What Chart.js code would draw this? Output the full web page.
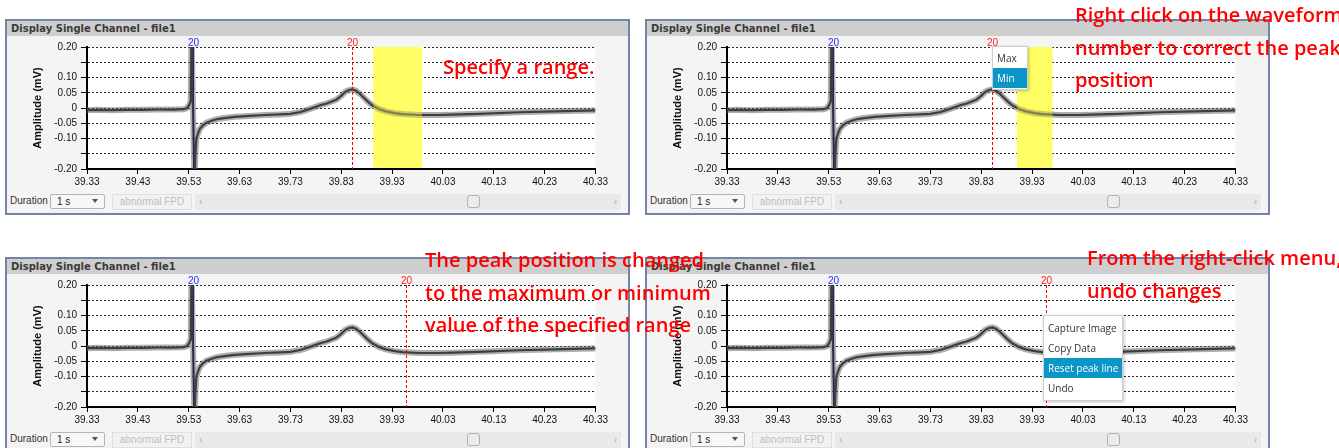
<!DOCTYPE html>
<html>
<head>
<meta charset="utf-8">
<title>Display Single Channel - file1</title>
<script src="https://cdn.jsdelivr.net/npm/chart.js@4.4.1/dist/chart.umd.min.js"></script>
<style>
    html, body { margin: 0; padding: 0; }
    body {
        width: 1339px; height: 448px; overflow: hidden; position: relative;
        background: #ffffff; font-family: "Liberation Sans", Arial, sans-serif;
    }
    .panel {
        position: absolute; width: 625px; height: 196px; box-sizing: border-box;
        border: 2px solid #7483a9; background: #f4f4f4;
    }
    .panel .title {
        position: absolute; left: 0; top: 0; right: 0; height: 15px;
        background: #cecece; color: #3a3a3a; font-family: "DejaVu Sans", sans-serif;
        font-weight: bold; font-size: 10px; line-height: 15px; padding-left: 4px;
    }
    .panel canvas { position: absolute; left: 3px; top: 15px; }
    .panel .lbl { position: absolute; left: 3px; top: 174px; font-size: 10px; color: #333; }
    .panel .combo {
        position: absolute; left: 43px; top: 173px; width: 55px; height: 15px; box-sizing: border-box;
        border: 1px solid #b4b4b4; border-radius: 2px; background: #f7f7f7; font-size: 10px; color: #222;
    }
    .panel .combo span { position: absolute; left: 6px; top: 1px; }
    .panel .combo i { position: absolute; right: 6px; top: 4px; border: 3px solid transparent; border-top: 4px solid #555; }
    .panel .btn {
        position: absolute; left: 105px; top: 173px; width: 80px; height: 16px; box-sizing: border-box;
        border: 1px solid #e0e0e0; background: #f2f2f2; color: #c0c0c0; font-size: 10px;
        text-align: center; line-height: 14px;
    }
    .panel .scroll {
        position: absolute; left: 188px; top: 173px; width: 426px; height: 16px; box-sizing: border-box;
        background: #e9e9e9; color: #a8a8a8; font-size: 10px; line-height: 16px;
    }
    .panel .scroll .l { position: absolute; left: 4px; }
    .panel .scroll .r { position: absolute; right: 4px; }
    .panel .scroll .thumb {
        position: absolute; left: 272px; top: 1px; width: 13px; height: 13px; box-sizing: border-box;
        border: 1px solid #b0b0b0; border-radius: 3px; background: #ececec;
    }
    .menu {
        position: absolute; background: #ffffff; border: 1px solid #cfcfcf;
        box-shadow: 1px 1px 3px rgba(0,0,0,0.25); font-family: "Open Sans", sans-serif;
        font-size: 10px; color: #333;
    }
    .menu div { height: 20px; line-height: 20px; padding-left: 4px; }
    .menu .on { background: #0b96c8; color: #ffffff; }
    .note {
        position: absolute; color: #ff0000; font-family: "Open Sans", sans-serif;
        font-weight: 600; font-size: 20px; line-height: 32.5px; white-space: nowrap; z-index: 5;
    }
</style>
</head>
<body>

<script>
// Nilai sumbu dan data gelombang
const timeTicks = [39.33, 39.43, 39.53, 39.63, 39.73, 39.83, 39.93, 40.03, 40.13, 40.23, 40.33];
const ampTicks = [-0.20, -0.15, -0.10, -0.05, 0, 0.05, 0.10, 0.15, 0.20];
const hiddenAmpTicks = [-0.15, 0.15];

const waveTime = [39.33, 39.35, 39.38, 39.41, 39.44, 39.47, 39.50, 39.52, 39.527, 39.531,
    39.534, 39.5355, 39.5415, 39.543, 39.545, 39.548, 39.552, 39.558, 39.565, 39.575,
    39.585, 39.60, 39.62, 39.65, 39.68, 39.71, 39.73, 39.75, 39.77, 39.79,
    39.80, 39.82, 39.83, 39.838, 39.845, 39.852, 39.859, 39.867, 39.875, 39.883,
    39.891, 39.905, 39.918, 39.935, 39.95, 39.983, 40.02, 40.048, 40.10, 40.18,
    40.25, 40.33];
const waveAmp = [-0.007, -0.006, -0.007, -0.006, -0.006, -0.005, -0.005, -0.004, 0.000, 0.010,
    0.022, 0.25, -0.25, -0.16, -0.100, -0.085, -0.068, -0.057, -0.048, -0.042,
    -0.037, -0.033, -0.029, -0.026, -0.023, -0.021, -0.019, -0.013, -0.002, 0.010,
    0.014, 0.027, 0.040, 0.053, 0.059, 0.061, 0.057, 0.046, 0.033, 0.020,
    0.009, -0.004, -0.011, -0.017, -0.020, -0.023, -0.023, -0.022, -0.019, -0.014,
    -0.011, -0.008];

// Penanda puncak per panel
const markLabel = '20';
const spikeMark = 39.538;
const peakMarks = [39.852, 39.852, 39.957, 39.957];
const rangeStarts = [39.893, 39.900, null, null];
const rangeEnds = [39.989, 39.970, null, null];
</script>

<div class="panel" id="p0" style="left:5px;top:19px"></div>
<div class="panel" id="p1" style="left:645px;top:19px"></div>
<div class="panel" id="p2" style="left:5px;top:257px"></div>
<div class="panel" id="p3" style="left:645px;top:257px"></div>

<div class="menu" style="left:992px;top:46px;width:34px;padding:1px 0;">
    <div>Max</div>
    <div class="on">Min</div>
</div>
<div class="menu" style="left:1043px;top:315px;width:78px;padding:2px 0;">
    <div>Capture Image</div>
    <div>Copy Data</div>
    <div class="on">Reset peak line</div>
    <div>Undo</div>
</div>

<div class="note" style="left:443px;top:51px;">Specify a range.</div>
<div class="note" style="left:1075px;top:-1px;">Right click on the waveform<br>number to correct the peak<br>position</div>
<div class="note" style="left:425px;top:244px;">The peak position is changed<br>to the maximum or minimum<br>value of the specified range</div>
<div class="note" style="left:1087px;top:242px;">From the right-click menu,<br>undo changes</div>

<script>
// Plugin untuk latar plot, rentang kuning dan garis penanda
const markPlugin = {
    id: 'peakMarks',
    beforeDraw(chart) {
        const a = chart.chartArea;
        const ctx = chart.ctx;
        ctx.save();
        ctx.fillStyle = '#ffffff';
        ctx.fillRect(a.left, a.top, a.right - a.left, a.bottom - a.top);
        ctx.restore();
    },
    beforeDatasetsDraw(chart, args, opts) {
        if (opts.from == null) return;
        const a = chart.chartArea;
        const x = chart.scales.x;
        const x1 = x.getPixelForValue(opts.from);
        const x2 = x.getPixelForValue(opts.to);
        const ctx = chart.ctx;
        ctx.save();
        ctx.fillStyle = '#ffff70';
        ctx.fillRect(x1, a.top, x2 - x1, a.bottom - a.top - 1);
        ctx.restore();
    },
    afterDatasetsDraw(chart, args, opts) {
        const a = chart.chartArea;
        const x = chart.scales.x;
        const ctx = chart.ctx;
        ctx.save();
        if (opts.from != null) {
            const x1 = x.getPixelForValue(opts.from);
            const x2 = x.getPixelForValue(opts.to);
            ctx.fillStyle = 'rgba(255,255,80,0.35)';
            ctx.fillRect(x1, a.top, x2 - x1, a.bottom - a.top - 1);
        }
        ctx.font = '10px "Liberation Sans", Arial, sans-serif';
        ctx.textAlign = 'center';
        ctx.textBaseline = 'bottom';

        // Garis biru pada lonjakan
        const sx = Math.round(x.getPixelForValue(opts.spike)) + 0.5;
        ctx.strokeStyle = '#23236a';
        ctx.lineWidth = 1;
        ctx.beginPath();
        ctx.moveTo(sx, a.top);
        ctx.lineTo(sx, a.bottom);
        ctx.stroke();
        ctx.fillStyle = '#2a2aff';
        ctx.fillText(opts.label, sx, a.top + 1);

        // Garis merah putus-putus pada puncak
        const px = Math.round(x.getPixelForValue(opts.peak)) + 0.5;
        ctx.strokeStyle = '#ff0000';
        ctx.setLineDash([3, 2]);
        ctx.beginPath();
        ctx.moveTo(px, a.top);
        ctx.lineTo(px, a.bottom);
        ctx.stroke();
        ctx.setLineDash([]);
        ctx.fillStyle = '#ff2020';
        ctx.fillText(opts.label, px, a.top + 1);
        ctx.restore();
    }
};

const tickFont = { family: '"Liberation Sans", Arial, sans-serif', size: 10 };

function buildPanel(index) {
    const panel = document.getElementById('p' + index);
    panel.innerHTML = `
        <div class="title">Display Single Channel - file1</div>
        <canvas width="600" height="154"></canvas>
        <div class="lbl">Duration</div>
        <div class="combo"><span>1 s</span><i></i></div>
        <div class="btn">abnormal FPD</div>
        <div class="scroll"><span class="l">&lsaquo;</span><span class="thumb"></span><span class="r">&rsaquo;</span></div>
    `;
    const points = waveTime.map((t, k) => ({ x: t, y: waveAmp[k] }));

    new Chart(panel.querySelector('canvas'), {
        type: 'line',
        data: {
            datasets: [
                { data: points, borderColor: 'rgba(110,110,110,0.55)', borderWidth: 6, pointRadius: 0 },
                { data: points, borderColor: '#050505', borderWidth: 2.2, pointRadius: 0 }
            ]
        },
        options: {
            responsive: false,
            animation: false,
            events: [],
            layout: { padding: { top: 11, right: 13, left: 0, bottom: 0 } },
            plugins: {
                legend: { display: false },
                tooltip: { enabled: false },
                peakMarks: {
                    label: markLabel,
                    spike: spikeMark,
                    peak: peakMarks[index],
                    from: rangeStarts[index],
                    to: rangeEnds[index]
                }
            },
            scales: {
                x: {
                    type: 'linear',
                    min: timeTicks[0],
                    max: timeTicks[timeTicks.length - 1],
                    afterBuildTicks: scale => { scale.ticks = timeTicks.map(v => ({ value: v })); },
                    afterFit: scale => { scale.height = 21; },
                    ticks: {
                        callback: v => v.toFixed(2),
                        font: tickFont, color: '#111', padding: 2,
                        maxRotation: 0, autoSkip: false
                    },
                    grid: { drawOnChartArea: false, drawTicks: true, tickLength: 5, tickColor: '#000', tickWidth: 1 },
                    border: { display: true, color: '#000', width: 2 }
                },
                y: {
                    min: ampTicks[0],
                    max: ampTicks[ampTicks.length - 1],
                    afterBuildTicks: scale => { scale.ticks = ampTicks.map(v => ({ value: v })); },
                    afterFit: scale => { scale.width = 77; },
                    ticks: {
                        callback: v => {
                            if (hiddenAmpTicks.some(h => Math.abs(h - v) < 1e-9)) return '';
                            return Math.abs(v) < 1e-9 ? '0' : v.toFixed(2);
                        },
                        font: tickFont, color: '#111', padding: 4, autoSkip: false
                    },
                    grid: { color: '#222', lineWidth: 1, tickLength: 6, tickColor: '#000', tickWidth: 1 },
                    border: { display: true, color: '#000', width: 2, dash: [2, 2] },
                    title: {
                        display: true,
                        text: 'Amplitude (mV)',
                        color: '#111',
                        font: { family: '"Liberation Sans", Arial, sans-serif', size: 11, weight: 'bold' },
                        padding: { top: 21, bottom: 0 }
                    }
                }
            }
        },
        plugins: [markPlugin]
    });
}

document.addEventListener('DOMContentLoaded', () => {
    [0, 1, 2, 3].forEach(buildPanel);
});
</script>
</body>
</html>
